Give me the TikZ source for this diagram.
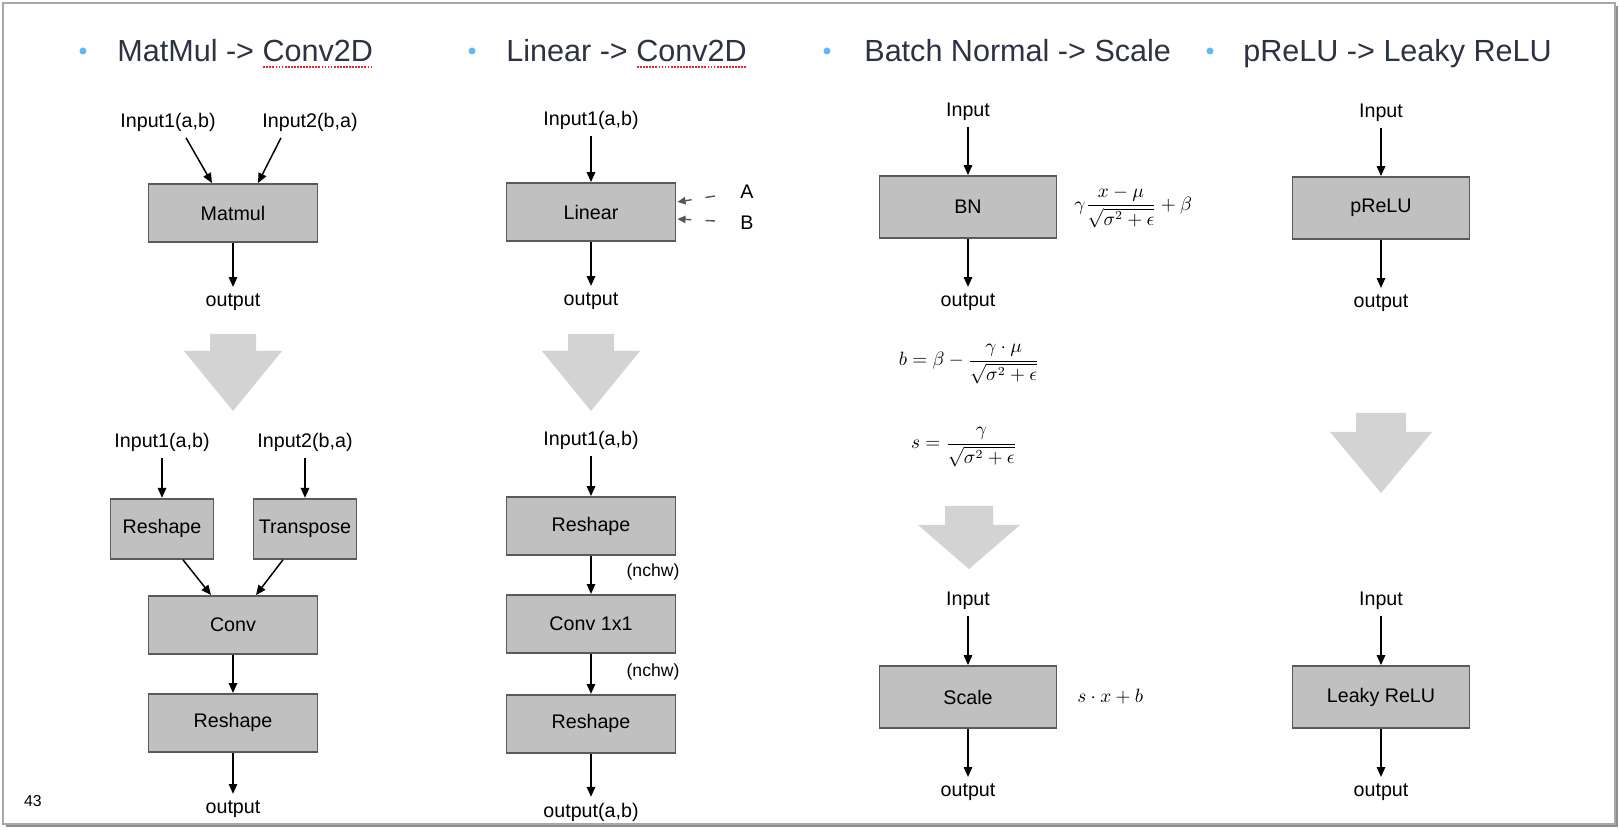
\documentclass[tikz,border=0pt]{standalone}
\usepackage{amsmath}
\usepackage{fontspec}
\setmainfont{Liberation Sans}
\usepackage{xcolor}
\usepackage{tikz}
\usetikzlibrary{positioning, arrows.meta, calc}
\definecolor{BoxFill}{HTML}{C0C0C0}
\definecolor{BoxLine}{HTML}{5A5A5A}
\definecolor{BigFill}{HTML}{D3D3D3}
\definecolor{HintGray}{HTML}{555555}
\definecolor{TitleInk}{HTML}{2D3342}
\definecolor{Bullet}{HTML}{62B8F2}
\definecolor{SpellRed}{HTML}{E8262B}
\definecolor{FrameLine}{HTML}{A8A8A8}
\definecolor{FrameShade}{HTML}{8E8E8E}

\newsavebox{\spellbox}
\newcommand{\spellmark}[1]{\sbox{\spellbox}{#1}\rlap{\usebox{\spellbox}}%
  \raisebox{-3.4pt}{\color{SpellRed}\hbox to \wd\spellbox{\xleaders\hbox to 1.7pt{\hss\rule{1pt}{1pt}\hss}\hfill}}}
% big grey down arrow: centre x, top, head top, tip, half shaft, half head
\newcommand{\bigdown}[6]{%
  \fill[BigFill] (#1-#5,#2) -- (#1+#5,#2) -- (#1+#5,#3) -- (#1+#6,#3)
    -- (#1,#4) -- (#1-#6,#3) -- (#1-#5,#3) -- cycle;}

\begin{document}
\begin{tikzpicture}[
    x=0.02cm, y=-0.02cm,
    font=\fontsize{11.2}{13.5}\selectfont,
    box/.style={
      draw=BoxLine, line width=1.1pt, fill=BoxFill,
      minimum width=3.38cm, minimum height=1.16cm, inner sep=0pt
    },
    boxWide/.style={box, minimum width=3.54cm, minimum height=1.24cm},
    boxSmall/.style={box, minimum width=2.06cm, minimum height=1.2cm},
    lbl/.style={inner sep=3.6pt},
    flow/.style={-{Triangle[length=5.6pt,width=4.8pt]}, line width=0.85pt, black},
    hint/.style={
      -{Triangle[length=4.6pt,width=4.2pt]}, line width=0.8pt, HintGray,
      dash pattern=on 5.5pt off 8pt
    },
    title/.style={anchor=base west, inner sep=0pt, font=\fontsize{17.4}{20}\selectfont, text=TitleInk},
    dot/.style={circle, fill=Bullet, inner sep=0pt, minimum size=0.14cm},
    formula/.style={inner sep=0pt, font=\fontsize{10.5}{12.5}\selectfont}
  ]
  \useasboundingbox (0,0) rectangle (1620,830);
  \fill[white] (0,0) rectangle (1620,830);
  \draw[FrameShade, line width=1.2pt] (6,826) -- (1617,826) -- (1617,6);
  \draw[FrameLine, line width=0.6pt] (3,3) rectangle (1615,824);

  % titles
  \node[dot] (d1) at (83,51) {};
  \node[title] (t1) at (117,62) {MatMul -> \spellmark{Conv2D}};
  \node[dot] (d2) at (472,51) {};
  \node[title] (t2) at (506,62) {Linear -> \spellmark{Conv2D}};
  \node[dot] (d3) at (827,51) {};
  \node[title] (t3) at (864,62) {Batch Normal -> Scale};
  \node[dot] (d4) at (1210,51) {};
  \node[title] (t4) at (1243,62) {pReLU -> Leaky ReLU};

  % MatMul
  \node[box] (mm) at (233,213) {Matmul};
  \node[lbl] (in1) at (168,122) {Input1(a,b)};
  \node[lbl] (in2) at (310,122) {Input2(b,a)};
  \node[lbl, below=0.88cm of mm] (out1) {output};
  \draw[flow] ($(in1.south)+(18,0)$) -- ($(mm.north)+(-21,0)$);
  \draw[flow] ($(in2.south)+(-29,0)$) -- ($(mm.north)+(25,0)$);
  \bigdown{233}{334}{351}{411}{23}{49}
  \node[lbl] (in3) at (162,442) {Input1(a,b)};
  \node[lbl] (in4) at (305,442) {Input2(b,a)};
  \node[boxSmall, below=0.8cm of in3] (rs1) {Reshape};
  \node[boxSmall, below=0.8cm of in4] (tp1) {Transpose};
  \node[box] (cv1) at (233,625) {Conv};
  \node[box, below=0.76cm of cv1] (rs2) {Reshape};
  \node[lbl, below=0.82cm of rs2] (out2) {output};
  \draw[flow] ($(rs1.south)+(21,0)$) -- ($(cv1.north)+(-22,0)$);
  \draw[flow] ($(tp1.south)+(-22,0)$) -- ($(cv1.north)+(23,0)$);

  % Linear
  \node[box] (lin) at (591,212) {Linear};
  \node[lbl, above=0.92cm of lin] (in5) {Input1(a,b)};
  \node[lbl, below=0.88cm of lin] (out3) {output};
  \node[lbl] (la) at (747,192) {A};
  \node[lbl] (lb) at (747,223) {B};
  \coordinate (ha) at (715,196);
  \coordinate (hb) at (715,221);
  \draw[hint] (ha) -- ($(lin.east)+(1,-10)$);
  \draw[hint] (hb) -- ($(lin.east)+(1,7)$);
  \bigdown{591}{334}{351}{411}{23}{49}
  \node[box] (rs3) at (591,526) {Reshape};
  \node[lbl, above=0.8cm of rs3] (in6) {Input1(a,b)};
  \node[box, below=0.76cm of rs3] (cv2) {Conv 1x1};
  \node[box, below=0.8cm of cv2] (rs4) {Reshape};
  \node[lbl, below=0.86cm of rs4] (out4) {output(a,b)};
  \node[lbl, font=\fontsize{10}{12}\selectfont] (nc1) at (653,572) {(nchw)};
  \node[lbl, font=\fontsize{10}{12}\selectfont] (nc2) at (653,672) {(nchw)};

  % Batch Normal
  \node[boxWide] (bn) at (968,207) {BN};
  \node[lbl, above=0.96cm of bn] (in7) {Input};
  \node[lbl, below=0.96cm of bn] (out5) {output};
  \node[formula, anchor=west] (fbn) at (1074,207) {$\displaystyle\gamma\frac{x-\mu}{\sqrt{\sigma^2+\epsilon}}+\beta$};
  \node[formula] (fb) at (969,364) {$\displaystyle b=\beta-\frac{\gamma\cdot\mu}{\sqrt{\sigma^2+\epsilon}}$};
  \node[formula] (fs) at (964,447) {$\displaystyle s=\frac{\gamma}{\sqrt{\sigma^2+\epsilon}}$};
  \bigdown{969}{506}{525}{569}{24}{51}
  \node[boxWide] (sc) at (968,697) {Scale};
  \node[lbl, above=0.98cm of sc] (in8) {Input};
  \node[lbl, below=0.96cm of sc] (out6) {output};
  \node[formula, anchor=west] (fsc) at (1077,697) {$s\cdot x+b$};

  % pReLU
  \node[boxWide] (pr) at (1381,208) {pReLU};
  \node[lbl, above=0.96cm of pr] (in9) {Input};
  \node[lbl, below=0.96cm of pr] (out7) {output};
  \bigdown{1381}{413}{432}{493}{25}{51}
  \node[boxWide] (lr) at (1381,697) {Leaky ReLU};
  \node[lbl, above=0.98cm of lr] (in10) {Input};
  \node[lbl, below=0.96cm of lr] (out8) {output};

  \foreach \a/\b in {mm/out1, in3/rs1, in4/tp1, cv1/rs2, rs2/out2,
                     in5/lin, lin/out3, in6/rs3, rs3/cv2, cv2/rs4, rs4/out4,
                     in7/bn, bn/out5, in8/sc, sc/out6,
                     in9/pr, pr/out7, in10/lr, lr/out8}
    \draw[flow] (\a) -- (\b);

  \node[font=\fontsize{9}{11}\selectfont] (pg) at (33,801) {43};
\end{tikzpicture}
\end{document}
